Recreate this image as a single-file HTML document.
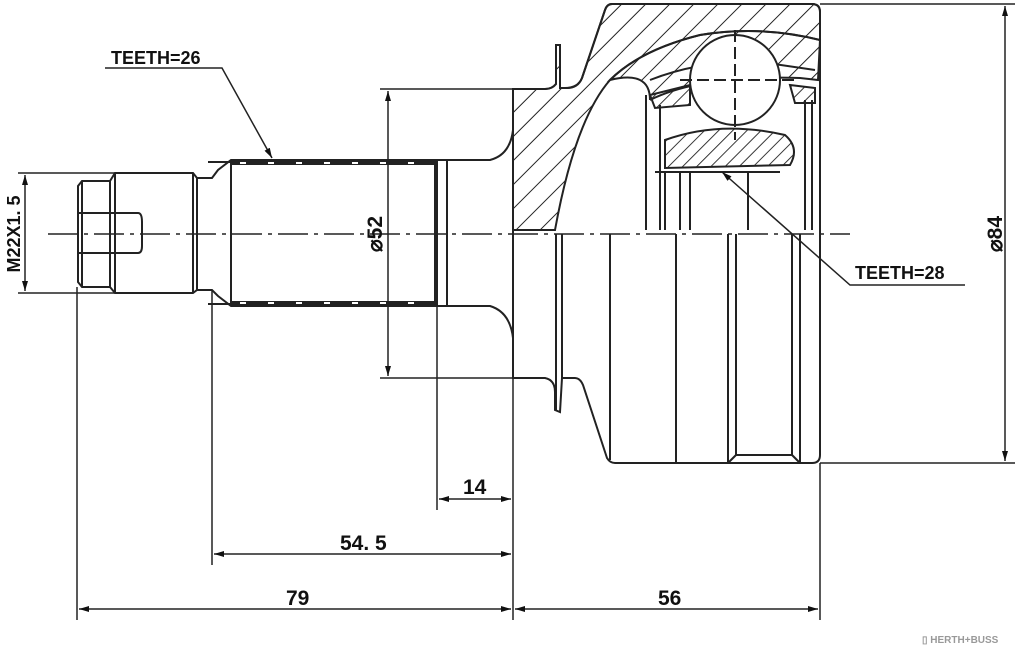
<!DOCTYPE html>
<html><head><meta charset="utf-8"><style>
html,body{margin:0;padding:0;background:#fff;}
svg{display:block}
text{font-family:"Liberation Sans Narrow","Liberation Sans",sans-serif;font-weight:bold;fill:#111}
</style></head><body>
<svg width="1024" height="655" viewBox="0 0 1024 655" xmlns="http://www.w3.org/2000/svg">
<defs>
<pattern id="h" patternUnits="userSpaceOnUse" width="17" height="17" patternTransform="rotate(45)">
<line x1="0" y1="0" x2="0" y2="17" stroke="#222" stroke-width="2"/></pattern>
<pattern id="h2" patternUnits="userSpaceOnUse" width="10" height="10" patternTransform="rotate(45)">
<line x1="0" y1="0" x2="0" y2="10" stroke="#222" stroke-width="1.8"/></pattern>
<marker id="a" viewBox="0 0 10 6" refX="10" refY="3" markerWidth="14" markerHeight="6" markerUnits="userSpaceOnUse" orient="auto-start-reverse"><path d="M0,0L10,3L0,6z" fill="#111"/></marker>
</defs>
<g fill="none" stroke="#222" stroke-width="2">
<line x1="48" y1="234" x2="850" y2="234" stroke-dasharray="30,6,4,6" stroke-width="1.6"/>
<path d="M78,186 L82,181 L110,181 L115,173 L193,173 L197,178 L212,178 L218,170 L231,160 L437,160 L437,306 L231,306 L218,296 L212,290 L197,290 L193,293 L115,293 L110,287 L82,287 L78,282 Z"/>
<line x1="82" y1="181" x2="82" y2="287"/><line x1="110" y1="181" x2="110" y2="287"/><line x1="115" y1="173" x2="115" y2="293"/>
<line x1="193" y1="173" x2="193" y2="293"/><line x1="197" y1="178" x2="197" y2="290"/>
<path d="M78,213 L138,213 Q142,213 142,222 L142,246 Q142,253 138,253 L78,253"/>
<line x1="231" y1="160" x2="231" y2="306"/><line x1="435" y1="160" x2="435" y2="306"/>
<line x1="208" y1="162" x2="231" y2="162"/><line x1="208" y1="304" x2="231" y2="304"/>
<line x1="231" y1="163" x2="435" y2="163" stroke-width="4"/>
<line x1="231" y1="303" x2="435" y2="303" stroke-width="4"/>
<line x1="240" y1="163" x2="435" y2="163" stroke="#fff" stroke-dasharray="6,22" stroke-width="2"/>
<line x1="240" y1="303" x2="435" y2="303" stroke="#fff" stroke-dasharray="6,22" stroke-width="2"/>
<path d="M437,160 L447,160 L447,306 L437,306"/>
<path d="M447,160 L490,160 Q510,155 513,130"/>
<path d="M447,306 L490,306 Q510,312 513,338"/>
<path d="M513,89 L513,378 L545,378 Q555,380 555,392 L555,410 L560,412 L562,378 L575,378 Q580,378 583,385 L607,458 Q610,463 615,463 L812,463 Q820,463 820,455 L820,12 Q820,4 812,4 L612,4 Q607,4 605,10 L582,78 Q578,88 565,88 L560,88 L560,45 L556,45 L556,84 Q552,89 545,89 Z"/>
<path d="M513,89 L545,89 Q552,89 556,84 L556,45 L560,45 L560,88 L567,88 Q578,88 582,78 L605,10 Q607,4 612,4 L812,4 Q820,4 820,12 L820,40 Q760,25 700,35 Q640,50 610,80 Q575,120 555,230 L513,230 Z" fill="url(#h)"/>
<path d="M650,100 Q700,75 800,78 L818,80 L820,40 Q760,25 700,35 Q640,50 610,80 Q650,70 650,100" fill="url(#h)"/>
<path d="M650,80 Q700,60 760,62 L815,70"/>
<path d="M650,95 L690,85 L690,105 L655,108 Z M790,85 L815,88 L815,103 L795,103 Z" fill="url(#h2)"/>
<path d="M665,140 Q720,120 785,135 Q800,148 790,165 L665,168 Z" fill="url(#h2)"/>
<circle cx="735" cy="80" r="45" fill="#fff"/>
<line x1="735" y1="30" x2="735" y2="140" stroke-dasharray="12,5"/>
<line x1="680" y1="80" x2="795" y2="80" stroke-dasharray="12,5"/>
<line x1="655" y1="172" x2="780" y2="172"/>
<line x1="646" y1="95" x2="646" y2="230"/><line x1="660" y1="105" x2="660" y2="230"/>
<line x1="665" y1="172" x2="665" y2="230"/><line x1="680" y1="172" x2="680" y2="230"/><line x1="690" y1="172" x2="690" y2="230"/>
<line x1="748" y1="172" x2="748" y2="230"/><line x1="805" y1="100" x2="805" y2="230"/><line x1="812" y1="100" x2="812" y2="230"/>
<line x1="556" y1="234" x2="556" y2="410"/><line x1="562" y1="234" x2="562" y2="378"/>
<line x1="610" y1="234" x2="610" y2="460"/><line x1="676" y1="234" x2="676" y2="463"/>
<line x1="728" y1="234" x2="728" y2="463"/><line x1="736" y1="234" x2="736" y2="455"/>
<line x1="792" y1="234" x2="792" y2="455"/><line x1="800" y1="234" x2="800" y2="463"/>
<line x1="736" y1="455" x2="792" y2="455"/><line x1="728" y1="463" x2="736" y2="455"/><line x1="792" y1="455" x2="800" y2="463"/>
<g stroke-width="1.5">
<line x1="820" y1="4" x2="1015" y2="4"/><line x1="820" y1="463" x2="1015" y2="463"/>
<line x1="1005" y1="6" x2="1005" y2="461" marker-start="url(#a)" marker-end="url(#a)"/>
<line x1="380" y1="89" x2="513" y2="89"/><line x1="380" y1="378" x2="513" y2="378"/>
<line x1="388" y1="91" x2="388" y2="376" marker-start="url(#a)" marker-end="url(#a)"/>
<line x1="18" y1="173" x2="115" y2="173"/><line x1="18" y1="293" x2="115" y2="293"/>
<line x1="25" y1="175" x2="25" y2="291" marker-start="url(#a)" marker-end="url(#a)"/>
<line x1="77" y1="287" x2="77" y2="620"/><line x1="212" y1="290" x2="212" y2="565"/>
<line x1="437" y1="306" x2="437" y2="510"/><line x1="513" y1="378" x2="513" y2="620"/><line x1="820" y1="463" x2="820" y2="620"/>
<line x1="439" y1="499" x2="511" y2="499" marker-start="url(#a)" marker-end="url(#a)"/>
<line x1="214" y1="554" x2="511" y2="554" marker-start="url(#a)" marker-end="url(#a)"/>
<line x1="79" y1="609" x2="511" y2="609" marker-start="url(#a)" marker-end="url(#a)"/>
<line x1="515" y1="609" x2="818" y2="609" marker-start="url(#a)" marker-end="url(#a)"/>
<polyline points="105,68 222,68 272,158" marker-end="url(#a)"/>
<polyline points="965,285 850,285 722,172" marker-end="url(#a)"/>
</g>
</g>
<text x="111" y="64" font-size="18" font-family="Liberation Serif">TEETH=26</text>
<text x="855" y="279" font-size="18" font-family="Liberation Serif">TEETH=28</text>
<text x="463" y="494" font-size="21">14</text>
<text x="340" y="550" font-size="21">54. 5</text>
<text x="286" y="605" font-size="21">79</text>
<text x="658" y="605" font-size="21">56</text>
<text transform="translate(382,234) rotate(-90)" text-anchor="middle" font-size="21">⌀52</text>
<text transform="translate(1002,234) rotate(-90)" text-anchor="middle" font-size="21">⌀84</text>
<text transform="translate(20,234) rotate(-90)" text-anchor="middle" font-size="18">M22X1. 5</text>
<text x="922" y="643" font-size="10" style="fill:#999">▯ HERTH+BUSS</text>
</svg>
</body></html>
